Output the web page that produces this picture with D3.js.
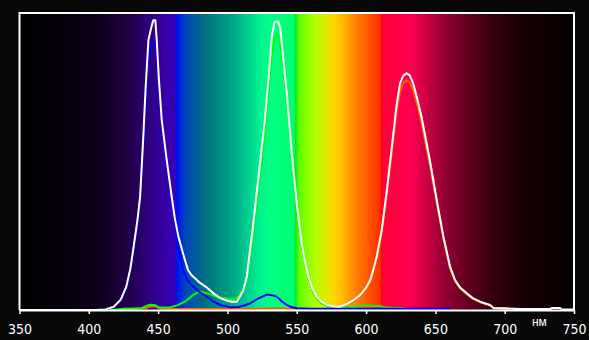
<!DOCTYPE html>
<html>
<head>
<meta charset="utf-8">
<script src="https://cdn.jsdelivr.net/npm/d3@7"></script>
<style>
  html, body { margin: 0; padding: 0; background: #080808; }
  svg { display: block; }
  .tick text { font-family: "Liberation Sans Narrow", "DejaVu Sans Condensed", "Liberation Sans", sans-serif; }
</style>
</head>
<body>
<div id="chart"></div>
<script>
const width = 589;
const height = 340;

const xTicks = [350, 400, 450, 500, 550, 600, 650, 700, 750];
const unitLabel = "нм";

// background spectrum colours, [nm, colour]
const spectrumStops = [
  [350, "#000000"], [380, "#05000c"], [408, "#0e001c"], [430, "#22004a"],
  [451, "#34009a"], [462, "#3a00b8"], [463.5, "#0010f0"], [470, "#0048b8"],
  [484, "#007080"], [502, "#00a085"], [513, "#00c890"], [523, "#00f090"],
  [530, "#00ff84"], [548, "#00ff70"], [549, "#10e820"], [552, "#60ff00"],
  [563, "#b0ff00"], [570, "#d8f000"], [577, "#ffd400"], [583, "#ffb800"],
  [596, "#ff7000"], [610, "#ff3000"], [611, "#ff1000"], [612, "#ff0038"],
  [632, "#ff0050"], [639, "#e00048"], [653, "#a00038"], [668, "#700025"],
  [689, "#3a000e"], [710, "#1a0004"], [740, "#0a0000"], [750, "#050000"]
];

const whiteSeries = [
  [350, 0], [405, 0], [412, 0.002], [418, 0.011], [423, 0.035], [427, 0.078], [430, 0.14],
  [432, 0.202], [435, 0.30], [437, 0.381], [439.3, 0.583], [441, 0.75], [443, 0.909],
  [445, 0.95], [446.5, 0.976], [448, 0.976], [449, 0.909], [450.5, 0.78], [452.6, 0.64],
  [456.2, 0.505], [459.8, 0.381], [462, 0.31], [464.6, 0.247], [468, 0.19], [471.5, 0.135],
  [474, 0.118], [477, 0.105], [480, 0.092], [485, 0.076], [490, 0.056], [494.7, 0.04],
  [499.5, 0.032], [503, 0.028], [506.7, 0.028], [509, 0.045], [511.5, 0.067], [514, 0.112],
  [516.3, 0.202], [518.7, 0.292], [521, 0.39], [523.5, 0.494], [527, 0.64], [530, 0.80],
  [532, 0.92], [534, 0.97], [536.5, 0.971], [538, 0.954], [540, 0.86], [542.8, 0.73],
  [546.4, 0.528], [550, 0.359], [553.6, 0.224], [556, 0.16], [558.4, 0.112], [561, 0.075],
  [564.4, 0.045], [568, 0.027], [571.6, 0.017], [576, 0.013], [581, 0.011], [586, 0.02],
  [591, 0.033], [595.7, 0.05], [600, 0.075], [603, 0.101], [605.5, 0.14], [607.7, 0.18],
  [611.3, 0.269], [615, 0.404], [619.7, 0.595], [622, 0.69], [624.5, 0.763], [627, 0.79],
  [629.3, 0.797], [631.5, 0.79], [634, 0.763], [637, 0.71], [640, 0.651], [646, 0.505],
  [651, 0.37], [655.8, 0.247], [660.6, 0.146], [664.2, 0.101], [668, 0.075], [672.7, 0.056],
  [677, 0.04], [682.3, 0.028], [689.5, 0.017], [692, 0.007], [700, 0.006], [711, 0.003],
  [733, 0.003], [734, 0.007], [740, 0.007], [741, 0.002], [750, 0.002]
];

const blueSeries = [
  [350, 0], [405, 0], [412, 0.002], [418, 0.009], [423, 0.03], [427, 0.07], [430, 0.13],
  [432, 0.19], [435, 0.28], [437, 0.36], [439.3, 0.55], [441, 0.70], [443, 0.85],
  [445, 0.89], [446.5, 0.905], [448, 0.90], [449, 0.86], [450.5, 0.75], [452.6, 0.62],
  [456.2, 0.49], [459.8, 0.37], [462, 0.30], [464.6, 0.22], [468, 0.135], [471, 0.10],
  [475.4, 0.078], [480, 0.06], [485, 0.045], [490, 0.028], [494.7, 0.017], [502, 0.009],
  [508, 0.01], [512, 0.015], [516.3, 0.022], [522, 0.038], [528.4, 0.052], [532, 0.05],
  [535.5, 0.045], [539, 0.03], [542.8, 0.017], [546, 0.01], [550, 0.006], [560, 0.004],
  [660, 0.004], [661, 0]
];

const greenSeries = [
  [350, 0], [418, 0], [425, 0.004], [438, 0.006], [442, 0.015], [445, 0.018], [448, 0.016],
  [451, 0.008], [458, 0.008], [463.4, 0.015], [470, 0.03], [475, 0.05], [480, 0.062],
  [486, 0.055], [492, 0.045], [498, 0.04], [504, 0.034], [508, 0.045], [511, 0.067],
  [514, 0.10], [516.3, 0.18], [518.7, 0.27], [521, 0.36], [523.5, 0.46], [527, 0.60],
  [530, 0.76], [532, 0.86], [534, 0.91], [535.5, 0.926], [537, 0.92], [538, 0.90],
  [540, 0.83], [542.8, 0.71], [546.4, 0.515], [550, 0.35], [553.6, 0.218], [556, 0.155],
  [558.4, 0.108], [561, 0.07], [564.4, 0.04], [568, 0.022], [572, 0.012], [580, 0.01],
  [590, 0.011], [598, 0.014], [603, 0.014], [610, 0.013], [614, 0.008], [620, 0.007],
  [627, 0.006], [628, 0]
];

const redSeries = [
  [350, 0], [428, 0], [432, 0.003], [440, 0.006], [445, 0.012], [448, 0.012], [452, 0.004],
  [460, 0.003], [520, 0.003], [527, 0.006], [540, 0.006], [545, 0.003], [575, 0.004],
  [581, 0.008], [586, 0.018], [591, 0.03], [595.7, 0.046], [600, 0.07], [603, 0.096],
  [605.5, 0.135], [607.7, 0.175], [611.3, 0.26], [615, 0.39], [619.7, 0.575], [622, 0.665],
  [624.5, 0.735], [627, 0.765], [629.3, 0.774], [631.5, 0.765], [634, 0.74], [637, 0.69],
  [640, 0.63], [646, 0.49], [651, 0.36], [655.8, 0.24], [660.6, 0.14], [664.2, 0.097],
  [668, 0.072], [672.7, 0.053], [677, 0.038], [682.3, 0.026], [689.5, 0.015], [692, 0.006],
  [700, 0.004], [705, 0]
];

const margin = { left: 19.5, right: 15, top: 13, bottom: 30 };

const svg = d3.select('#chart')
  .append('svg')
  .attr('width', width)
  .attr('height', height);

const xScale = d3.scaleLinear()
  .domain([350, 750])
  .range([margin.left, width - margin.right]);

const yScale = d3.scaleLinear()
  .domain([0, 1])
  .range([height - margin.bottom, margin.top]);

// spectrum gradient
const grad = svg.append('defs')
  .append('linearGradient')
  .attr('id', 'spectrum')
  .attr('x1', '0%').attr('x2', '100%')
  .attr('y1', '0%').attr('y2', '0%');

grad.selectAll('stop')
  .data(spectrumStops)
  .enter().append('stop')
  .attr('offset', d => ((d[0] - 350) / 400 * 100) + '%')
  .attr('stop-color', d => d[1]);

svg.append('rect')
  .attr('x', xScale(350))
  .attr('y', yScale(1))
  .attr('width', xScale(750) - xScale(350))
  .attr('height', yScale(0) - yScale(1))
  .attr('fill', 'url(#spectrum)');

const line = d3.line()
  .x(d => xScale(d[0]))
  .y(d => yScale(d[1]));

const series = [
  { data: redSeries, color: '#ff5f00' },
  { data: greenSeries, color: '#00ff00' },
  { data: blueSeries, color: '#0000ff' },
  { data: whiteSeries, color: '#ffffff' }
];

svg.selectAll('.curve')
  .data(series)
  .enter().append('path')
  .attr('class', 'curve')
  .attr('d', d => line(d.data))
  .attr('fill', 'none')
  .attr('stroke', d => d.color)
  .attr('stroke-width', 2)
  .attr('stroke-linejoin', 'round');

// frame (top, left, right)
svg.append('path')
  .attr('d', `M${xScale(350)},${yScale(0)} V${yScale(1)} H${xScale(750)} V${yScale(0)}`)
  .attr('fill', 'none')
  .attr('stroke', '#fff')
  .attr('stroke-width', 2);

const xAxis = d3.axisBottom(xScale)
  .tickValues(xTicks)
  .tickFormat(d3.format('d'))
  .tickSize(4)
  .tickSizeOuter(0)
  .tickPadding(10);

const gx = svg.append('g')
  .attr('id', 'x-axis')
  .attr('transform', `translate(0, ${yScale(0)})`)
  .call(xAxis);

gx.select('.domain').attr('stroke', '#fff').attr('stroke-width', 2);
gx.selectAll('.tick line').attr('stroke', '#fff').attr('stroke-width', 1.5);
gx.selectAll('.tick text')
  .attr('fill', '#fff')
  .style('font-size', '14px');

svg.append('text')
  .attr('x', xScale(725))
  .attr('y', yScale(0) + 16)
  .attr('text-anchor', 'middle')
  .attr('fill', '#fff')
  .style('font-family', '"Liberation Sans", Arial, sans-serif')
  .style('font-size', '12px')
  .text(unitLabel);
</script>
</body>
</html>
